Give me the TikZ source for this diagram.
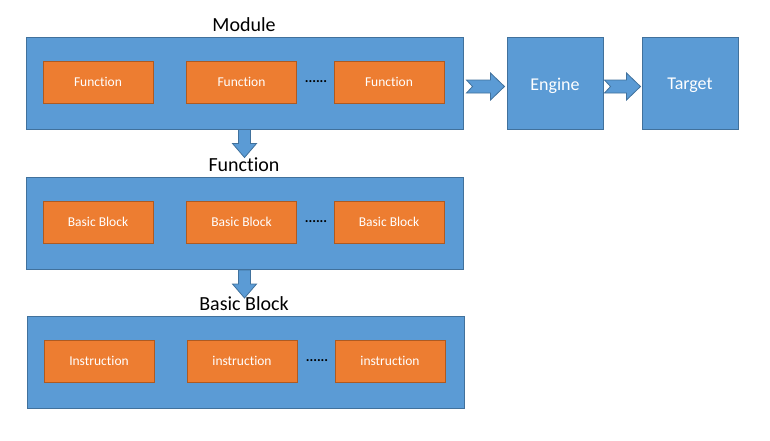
\documentclass[tikz,border=0pt]{standalone}
\usepackage{fontspec}
\setmainfont{Carlito}[Ligatures=NoCommon]
\usetikzlibrary{calc}
\usepackage{xcolor}
\definecolor{boxblue}{HTML}{5B9BD5}
\definecolor{boxblueline}{HTML}{41719C}
\definecolor{boxorange}{HTML}{ED7D31}
\definecolor{boxorangeline}{HTML}{AE5A21}

\tikzset{
 bigbox/.style={draw=boxblueline, fill=boxblue, line width=1pt, minimum width=437pt, minimum height=92pt, inner sep=0},
 smallbox/.style={draw=boxorangeline, fill=boxorange, line width=1pt, minimum width=110pt, minimum height=42pt, inner sep=0, text=white, font=\fontsize{13.5}{15}\selectfont},
 sidebox/.style={draw=boxblueline, fill=boxblue, line width=1pt, minimum width=96pt, minimum height=92pt, inner sep=0, text=white, font=\fontsize{18}{20}\selectfont},
 title/.style={font=\fontsize{20}{22}\selectfont, inner sep=0},
 dots/.style={font=\fontsize{14}{16}\selectfont\bfseries, inner sep=0},
 fatarrow/.style={draw=boxblueline, fill=boxblue, line width=.8pt, line join=miter}
}

% fat block arrows: tail point, tip point
\newcommand\fatright[2]{\draw[fatarrow] ($(#1)+(0,-6.5)$) -- ($(#2)+(-14,-6.5)$) -- ($(#2)+(-14,-13.5)$) -- (#2) -- ($(#2)+(-14,13.5)$) -- ($(#2)+(-14,6.5)$) -- ($(#1)+(0,6.5)$) -- ($(#1)+(6,0)$) -- cycle;}
\newcommand\fatdown[2]{\draw[fatarrow] ($(#1)+(-6,0)$) -- ($(#2)+(-6,-14)$) -- ($(#2)+(-12,-14)$) -- (#2) -- ($(#2)+(12,-14)$) -- ($(#2)+(6,-14)$) -- ($(#1)+(6,0)$) -- cycle;}

\begin{document}
\begin{tikzpicture}[x=1pt, y=-1pt]
\useasboundingbox (0,0) rectangle (770,440);

% module level
\node[title] (modtitle) at (244,25) {Module};
\node[bigbox] (module) at (244.5,83) {};
\node[smallbox] (mf1) at (98,82) {Function};
\node[smallbox] (mf2) at (241.5,82) {Function};
\node[smallbox] (mf3) at (389,82) {Function};
\node[dots] (mdots) at (316,82) {......};

\node[sidebox] (engine) at (555,83) {};
\node[sidebox] (target) at (690,83) {};
\node[text=white, font=\fontsize{18}{20}\selectfont] (englabel) at (555,85.5) {Engine};
\node[text=white, font=\fontsize{18}{20}\selectfont] (tarlabel) at (690,85.5) {Target};

% function level
\node[title] (funtitle) at (244,165) {Function};
\node[bigbox] (function) at (244.5,223.5) {};
\node[smallbox] (fb1) at (98,222) {Basic Block};
\node[smallbox] (fb2) at (241.5,222) {Basic Block};
\node[smallbox] (fb3) at (389,222) {Basic Block};
\node[dots] (fdots) at (316,222) {......};

% basic block level
\node[title] (bbtitle) at (244,304) {Basic Block};
\node[bigbox] (block) at (245.5,362) {};
\node[smallbox] (bi1) at (99,361) {Instruction};
\node[smallbox] (bi2) at (242,361) {instruction};
\node[smallbox] (bi3) at (390,361) {instruction};
\node[dots] (bdots) at (317,361) {......};

% arrows
\coordinate (a1) at ($(module.east)+(3,3.5)$);
\coordinate (a2) at ($(engine.west)+(-2,3.5)$);
\coordinate (b1) at ($(engine.east)+(1,3.5)$);
\coordinate (b2) at ($(target.west)+(-1,3.5)$);
\fatright{a1}{a2}
\fatright{b1}{b2}

\coordinate (c1) at (module.south);
\coordinate (c2) at ($(module.south)+(0,28)$);
\coordinate (d1) at (function.south);
\coordinate (d2) at ($(function.south)+(0,28)$);
\fatdown{c1}{c2}
\fatdown{d1}{d2}
\end{tikzpicture}
\end{document}
